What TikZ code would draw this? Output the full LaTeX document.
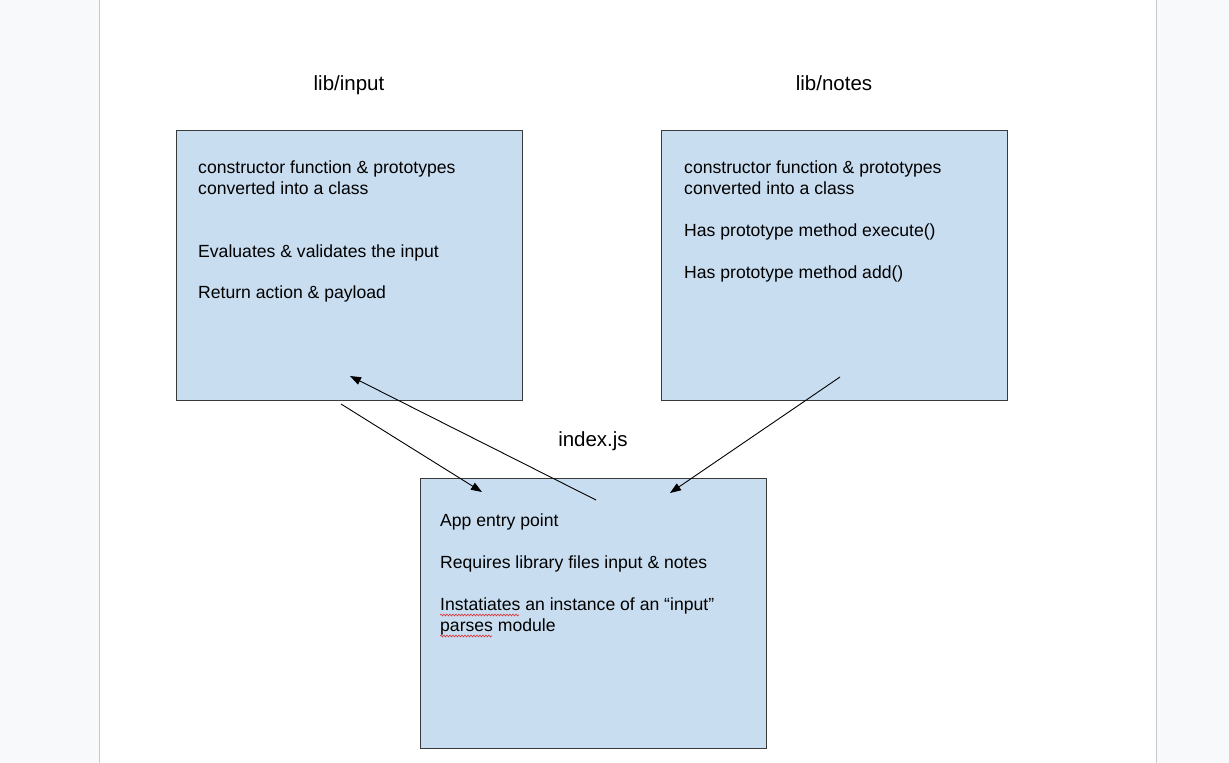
\documentclass[tikz,border=0pt]{standalone}
\usepackage{fontspec}
\setmainfont{Liberation Sans}
\usetikzlibrary{arrows.meta,decorations.pathmorphing}
\definecolor{boxfill}{HTML}{C9DDF0}
\definecolor{boxline}{HTML}{3A3A3A}
\definecolor{pagebg}{HTML}{F8F9FA}
\definecolor{pageedge}{HTML}{C8C8C8}
\definecolor{squig}{HTML}{E03030}
\tikzset{
  panel/.style={draw=boxline, fill=boxfill, line width=1pt, inner sep=0pt,
    minimum width=346pt, minimum height=270pt},
  body/.style={anchor=base west, inner sep=0pt, font=\fontsize{17.6}{21}\selectfont},
  heading/.style={anchor=base, inner sep=0pt, font=\fontsize{20.5}{24}\selectfont},
  link/.style={line width=0.9pt, -{Triangle[length=11pt,width=8pt]}},
  spell/.style={draw=squig, line width=0.6pt, decorate,
    decoration={snake, amplitude=0.9pt, segment length=3pt}}
}
\begin{document}
\begin{tikzpicture}[x=1pt,y=-1pt]
\useasboundingbox (0,0) rectangle (1229,763);
\fill[pagebg] (0,0) rectangle (1229,763);
\fill[white] (99,0) rectangle (1156,763);
\draw[pageedge, line width=1pt] (99,0) -- (99,763);
\draw[pageedge, line width=1pt] (1156,0) -- (1156,763);

% headings
\node[heading] (hin) at (349,90) {lib/input};
\node[heading] (hno) at (834,90) {lib/notes};
\node[heading] (hix) at (593,446) {index.js};

% panels
\node[panel] (input) at (349,265) {};
\node[panel] (notes) at (834,265) {};
\node[panel] (index) at (593,613.5) {};

% input texts
\node[body] (i1) at (198,173) {constructor function \& prototypes};
\node[body] (i2) at (198,194) {converted into a class};
\node[body] (i3) at (198,257) {Evaluates \& validates the input};
\node[body] (i4) at (198,298) {Return action \& payload};

% notes texts
\node[body] (n1) at (684,173) {constructor function \& prototypes};
\node[body] (n2) at (684,194) {converted into a class};
\node[body] (n3) at (684,236) {Has prototype method execute()};
\node[body] (n4) at (684,278) {Has prototype method add()};

% index texts
\node[body] (x1) at (440,526) {App entry point};
\node[body] (x2) at (440,568) {Requires library files input \& notes};
\node[body] (x3) at (440,610) {Instatiates an instance of an “input”};
\node[body] (x4) at (440,631) {parses module};

% spell-check marks
\draw[spell] (440,615) -- (519,615);
\draw[spell] (440,636) -- (492,636);

% connectors
\coordinate (a1s) at (341,404);
\coordinate (a1e) at (482,492);
\coordinate (a2s) at (596,500);
\coordinate (a2e) at (350,376);
\coordinate (a3s) at (840,377);
\coordinate (a3e) at (670,493);
\draw[link] (a1s) -- (a1e);
\draw[link] (a2s) -- (a2e);
\draw[link] (a3s) -- (a3e);
\end{tikzpicture}
\end{document}
